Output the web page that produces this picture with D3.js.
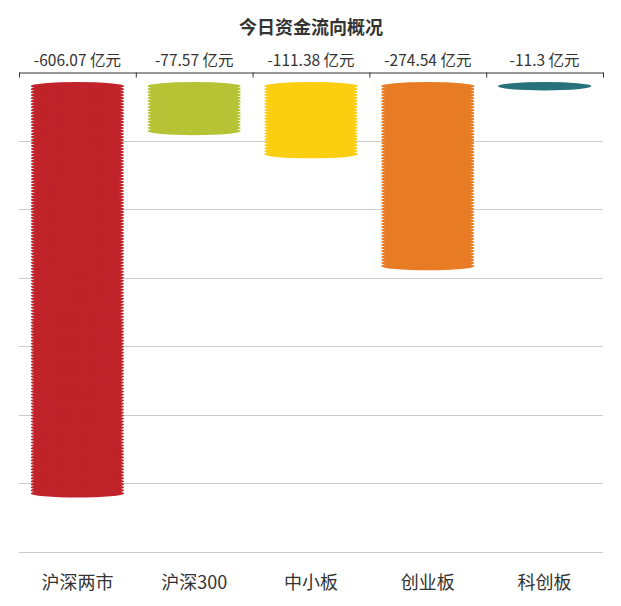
<!DOCTYPE html>
<html><head><meta charset="utf-8">
<script src="https://cdn.jsdelivr.net/npm/d3@7"></script>
<style>
html,body{margin:0;padding:0;background:#fff;}
svg{display:block;font-family:"Noto Sans CJK SC","Microsoft YaHei",sans-serif;}
</style></head>
<body><svg id="c" width="621" height="606"></svg>
<script>
const title = '今日资金流向概况';
const categories = ['沪深两市','沪深300','中小板','创业板','科创板'];
const values = [-606.07, -77.57, -111.38, -274.54, -11.3];
const colors = ['#c1232b','#b5c334','#fcce10','#e87c25','#27727b'];
const yTicks = [0,-100,-200,-300,-400,-500,-600,-700];
const unit = ' 亿元';

(function(){
const svg = d3.select('#c');
const pLeft = 19, pRight = 603, pTop = 72, pBottom = 552;

const x = d3.scaleBand().domain(categories).range([pLeft, pRight]).paddingInner(0.2).paddingOuter(0.1);
const y = d3.scaleLinear().domain([0, -700]).range([pTop, pBottom]);
const xb = d3.scaleLinear().domain([0, categories.length]).range([pLeft, pRight]);

// title
svg.append('text').attr('x', 311).attr('y', 33.5).attr('text-anchor','middle')
  .attr('font-size', 18).attr('font-weight','bold').attr('fill','#333').text(title);

// grid lines
svg.append('g').selectAll('line').data(yTicks.slice(1)).join('line')
  .attr('x1', pLeft).attr('x2', pRight)
  .attr('y1', d => Math.round(y(d)) + 0.5).attr('y2', d => Math.round(y(d)) + 0.5)
  .attr('stroke', '#ccc').attr('stroke-width', 1);

// top axis line + boundary ticks
const ax = svg.append('g').attr('transform', `translate(0,${pTop + 0.5})`)
  .call(d3.axisTop(xb).ticks(categories.length).tickSize(-5).tickSizeOuter(0).tickFormat(''));
ax.select('.domain').attr('stroke', '#333');
ax.selectAll('.tick line').attr('stroke', '#333');

// top value labels
svg.append('g').selectAll('text').data(values).join('text')
  .attr('x', (d,i) => x(categories[i]) + x.bandwidth()/2)
  .attr('y', 65.5).attr('text-anchor','middle')
  .attr('font-size', 15.5).attr('fill','#333')
  .text(d => d + unit);

// bottom category labels
svg.append('g').selectAll('text').data(categories).join('text')
  .attr('x', d => x(d) + x.bandwidth()/2)
  .attr('y', 588.5).attr('text-anchor','middle')
  .attr('font-size', 18).attr('fill','#333')
  .text(d => d);

// pictorial bars: repeated overlapping ellipses
const offset = 10, ry = 4.2, stepY = 3;
const bars = svg.append('g');
values.forEach((v, i) => {
  const cx = x(categories[i]) + x.bandwidth()/2;
  const rx = x.bandwidth()/2;
  const y0 = y(0) + offset, y1 = y(v) + offset;
  const L = y1 - y0;
  let centers = [];
  if (L <= 2*ry) centers = [y0 + ry];
  else {
    const n = Math.max(1, Math.round((L - 2*ry)/stepY) + 1);
    for (let k = 0; k < n; k++) centers.push(y0 + ry + (n === 1 ? 0 : k*(L - 2*ry)/(n-1)));
  }
  bars.append('g').selectAll('ellipse').data(centers).join('ellipse')
    .attr('cx', cx).attr('cy', d => d).attr('rx', rx).attr('ry', ry)
    .attr('fill', colors[i]);
});
})();
</script></body></html>
